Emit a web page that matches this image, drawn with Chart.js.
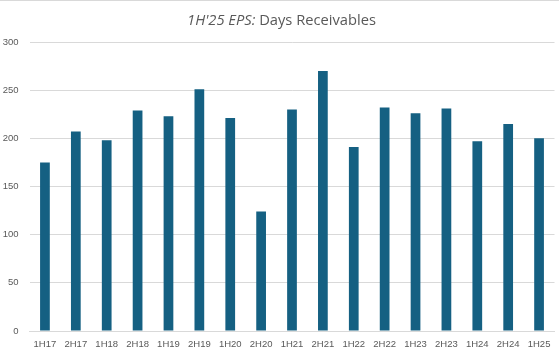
<!DOCTYPE html>
<html>
<head>
<meta charset="utf-8">
<script src="https://cdn.jsdelivr.net/npm/chart.js@4"></script>
<style>
  html, body { margin: 0; padding: 0; background: #ffffff; }
  #wrap { position: relative; width: 559px; height: 356px; box-sizing: border-box; border-top: 1px solid #D9D9D9; }
  #title { position: absolute; left: 0; width: 563px; top: 8px; text-align: center; font-family: "Open Sans", sans-serif; font-size: 14.7px; color: #595959; white-space: nowrap; }
  #title i { font-style: italic; }
  canvas { position: absolute; left: 0; top: 0; }
</style>
</head>
<body>
<div id="wrap">
  <canvas id="c" width="559" height="356"></canvas>
  <div id="title"><i>1H'25 EPS:</i> Days Receivables</div>
</div>
<script>
const categories = ["1H17","2H17","1H18","2H18","1H19","2H19","1H20","2H20","1H21","2H21","1H22","2H22","1H23","2H23","1H24","2H24","1H25"];
const daysReceivables = [175, 207, 198, 229, 223, 251, 221, 124, 230, 270, 191, 232, 226, 231, 197, 215, 200];
const yTicks = [0, 50, 100, 150, 200, 250, 300];

new Chart(document.getElementById('c'), {
  type: 'bar',
  data: {
    labels: categories,
    datasets: [{
      label: 'Days Receivables',
      data: daysReceivables,
      backgroundColor: '#156082',
      borderWidth: 0,
      categoryPercentage: 1.0,
      barPercentage: 0.315
    }]
  },
  options: {
    responsive: false,
    animation: false,
    layout: { padding: { left: 0, right: 4.5, top: 41, bottom: 0 } },
    plugins: { legend: { display: false }, tooltip: { enabled: false }, title: { display: false } },
    scales: {
      x: {
        grid: { display: false, drawTicks: false },
        border: { display: true, color: '#D9D9D9', width: 1 },
        ticks: { color: '#595959', font: { family: 'Liberation Sans', size: 9.5 }, padding: 8, maxRotation: 0, autoSkip: false },
        afterFit: (s) => { s.height = 26; }
      },
      y: {
        min: 0, max: 300,
        afterBuildTicks: (s) => { s.ticks = yTicks.map(v => ({ value: v })); },
        grid: { color: '#D9D9D9', drawTicks: false, lineWidth: 1 },
        border: { display: false },
        ticks: { color: '#595959', font: { family: 'Liberation Sans', size: 9.5 }, padding: 11 },
        afterFit: (s) => { s.width = 29.5; }
      }
    }
  }
});
</script>
</body>
</html>
